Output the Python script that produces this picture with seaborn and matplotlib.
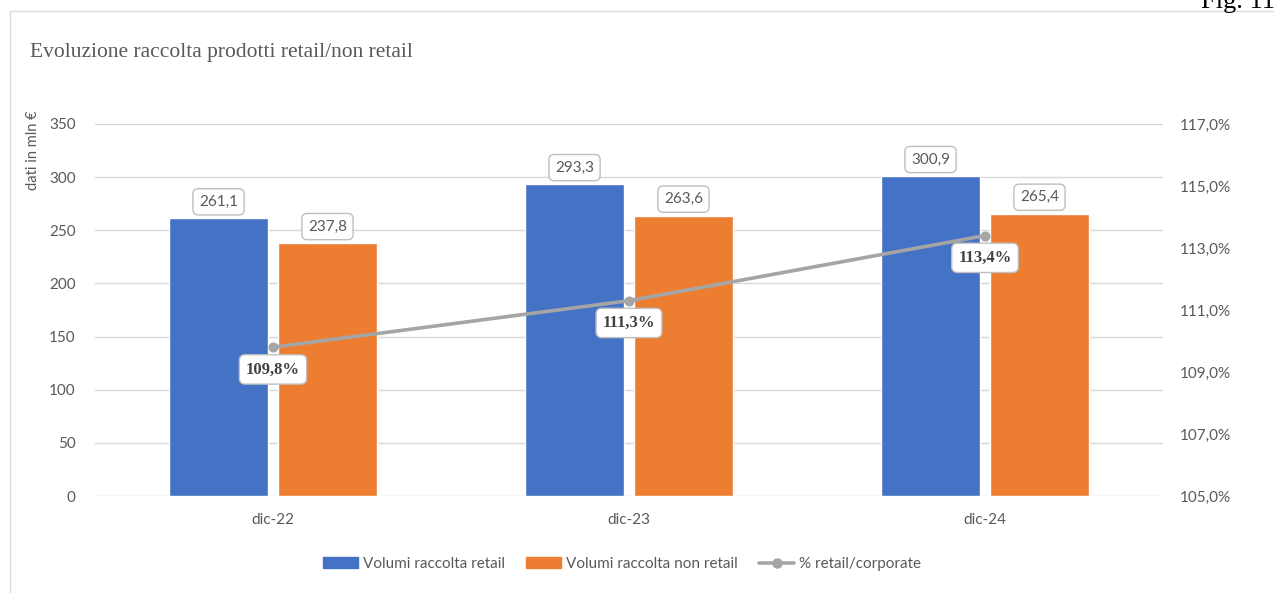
import matplotlib
matplotlib.use("Agg")
import matplotlib.pyplot as plt
from matplotlib.lines import Line2D
from matplotlib.ticker import FuncFormatter
import seaborn as sns
import pandas as pd

# Dati (mln €)
periodi = ["dic-22", "dic-23", "dic-24"]
raccolta_retail = [261.1, 293.3, 300.9]
raccolta_non_retail = [237.8, 263.6, 265.4]
perc_retail_corporate = [109.8, 111.3, 113.4]

serie = ["Volumi raccolta retail", "Volumi raccolta non retail"]
linea_label = "% retail/corporate"

BLU = "#4472C4"
ARANCIO = "#ED7D31"
GRIGIO = "#A5A5A5"
GRIGLIA = "#D9D9D9"
TESTO = "#595959"

sns.set_theme(style="white")
plt.rcParams["font.family"] = ["Lato", "DejaVu Sans"]

df = pd.DataFrame({
    "periodo": periodi * 2,
    "valore": raccolta_retail + raccolta_non_retail,
    "serie": [serie[0]] * 3 + [serie[1]] * 3,
})

fig = plt.figure(figsize=(12.74, 5.93), dpi=100)
ax = fig.add_axes([95 / 1274, 97 / 593, 1068 / 1274, 372 / 593])

sns.barplot(data=df, x="periodo", y="valore", hue="serie", order=periodi,
            hue_order=serie, palette=[BLU, ARANCIO], width=0.612, gap=0.083,
            saturation=1, ax=ax, legend=False)

ax.set_xlim(-0.5, 2.5)
ax.set_ylim(0, 350)
ax.set_yticks(range(0, 351, 50))
ax.yaxis.grid(True, color=GRIGLIA, linewidth=1)
ax.set_axisbelow(True)
for s in ax.spines.values():
    s.set_visible(False)
ax.tick_params(axis="both", length=0, colors=TESTO, labelsize=11)
ax.tick_params(axis="y", pad=14)
ax.tick_params(axis="x", pad=12)
ax.set_xlabel("")
ax.set_ylabel("")

# etichette valori sulle barre
box_val = dict(boxstyle="round,pad=0.4,rounding_size=0.35", fc="white",
               ec="#BFBFBF", lw=1)
for cont in ax.containers:
    for bar in cont:
        h = bar.get_height()
        ax.annotate(f"{h:.1f}".replace(".", ","),
                    (bar.get_x() + bar.get_width() / 2, h),
                    xytext=(0, 12), textcoords="offset points",
                    ha="center", va="center", fontsize=11, color=TESTO,
                    bbox=box_val)

# asse secondario con la percentuale
ax2 = ax.twinx()
sns.lineplot(x=[0, 1, 2], y=perc_retail_corporate, ax=ax2, color=GRIGIO,
             linewidth=2.6, marker="o", markersize=6.5,
             markeredgecolor=GRIGIO, legend=False)
ax2.set_ylim(105, 117)
ax2.set_yticks(range(105, 118, 2))
ax2.yaxis.set_major_formatter(FuncFormatter(lambda v, p: f"{v:.1f}%".replace(".", ",")))
ax2.grid(False)
for s in ax2.spines.values():
    s.set_visible(False)
ax2.tick_params(axis="y", length=0, colors=TESTO, labelsize=11, pad=12)
ax2.set_ylabel("")

box_pct = dict(boxstyle="round,pad=0.4,rounding_size=0.35", fc="white",
               ec="#BFBFBF", lw=1)
for i, v in enumerate(perc_retail_corporate):
    ax2.annotate(f"{v:.1f}%".replace(".", ","), (i, v),
                 xytext=(0, -16), textcoords="offset points",
                 ha="center", va="center", fontsize=12, fontweight="bold",
                 family=["Liberation Serif"], color="#404040", bbox=box_pct)

# testi della figura
fig.text(30 / 1274, 1 - 52 / 593, "Evoluzione raccolta prodotti retail/non retail",
         family=["Liberation Serif"], fontsize=15.5, color=TESTO,
         ha="left", va="center")
fig.text(33 / 1274, 1 - 150 / 593, "dati in mln €", rotation=90,
         fontsize=10.5, color=TESTO, ha="center", va="center")
fig.text(1201 / 1274, 1 - 8 / 593, "Fig. 11", family=["Liberation Serif"],
         fontsize=19, color="black", ha="left", va="baseline")

# cornice del grafico
fig.add_artist(Line2D([10 / 1274, 10 / 1274], [0, 1 - 11 / 593],
                      transform=fig.transFigure, color=GRIGLIA, lw=1))
fig.add_artist(Line2D([10 / 1274, 1], [1 - 11 / 593, 1 - 11 / 593],
                      transform=fig.transFigure, color=GRIGLIA, lw=1))

# legenda
handles = [
    plt.Rectangle((0, 0), 1, 1, color=BLU),
    plt.Rectangle((0, 0), 1, 1, color=ARANCIO),
    Line2D([], [], color=GRIGIO, lw=2.6, marker="o", markersize=6.5),
]
fig.legend(handles, serie + [linea_label], loc="center",
           bbox_to_anchor=(622 / 1274, 1 - 564 / 593), ncol=3, frameon=False,
           fontsize=11, labelcolor=TESTO, handlelength=2.3, handleheight=0.7,
           handletextpad=0.3, columnspacing=1.4)

fig.savefig("out.png", dpi=100)
